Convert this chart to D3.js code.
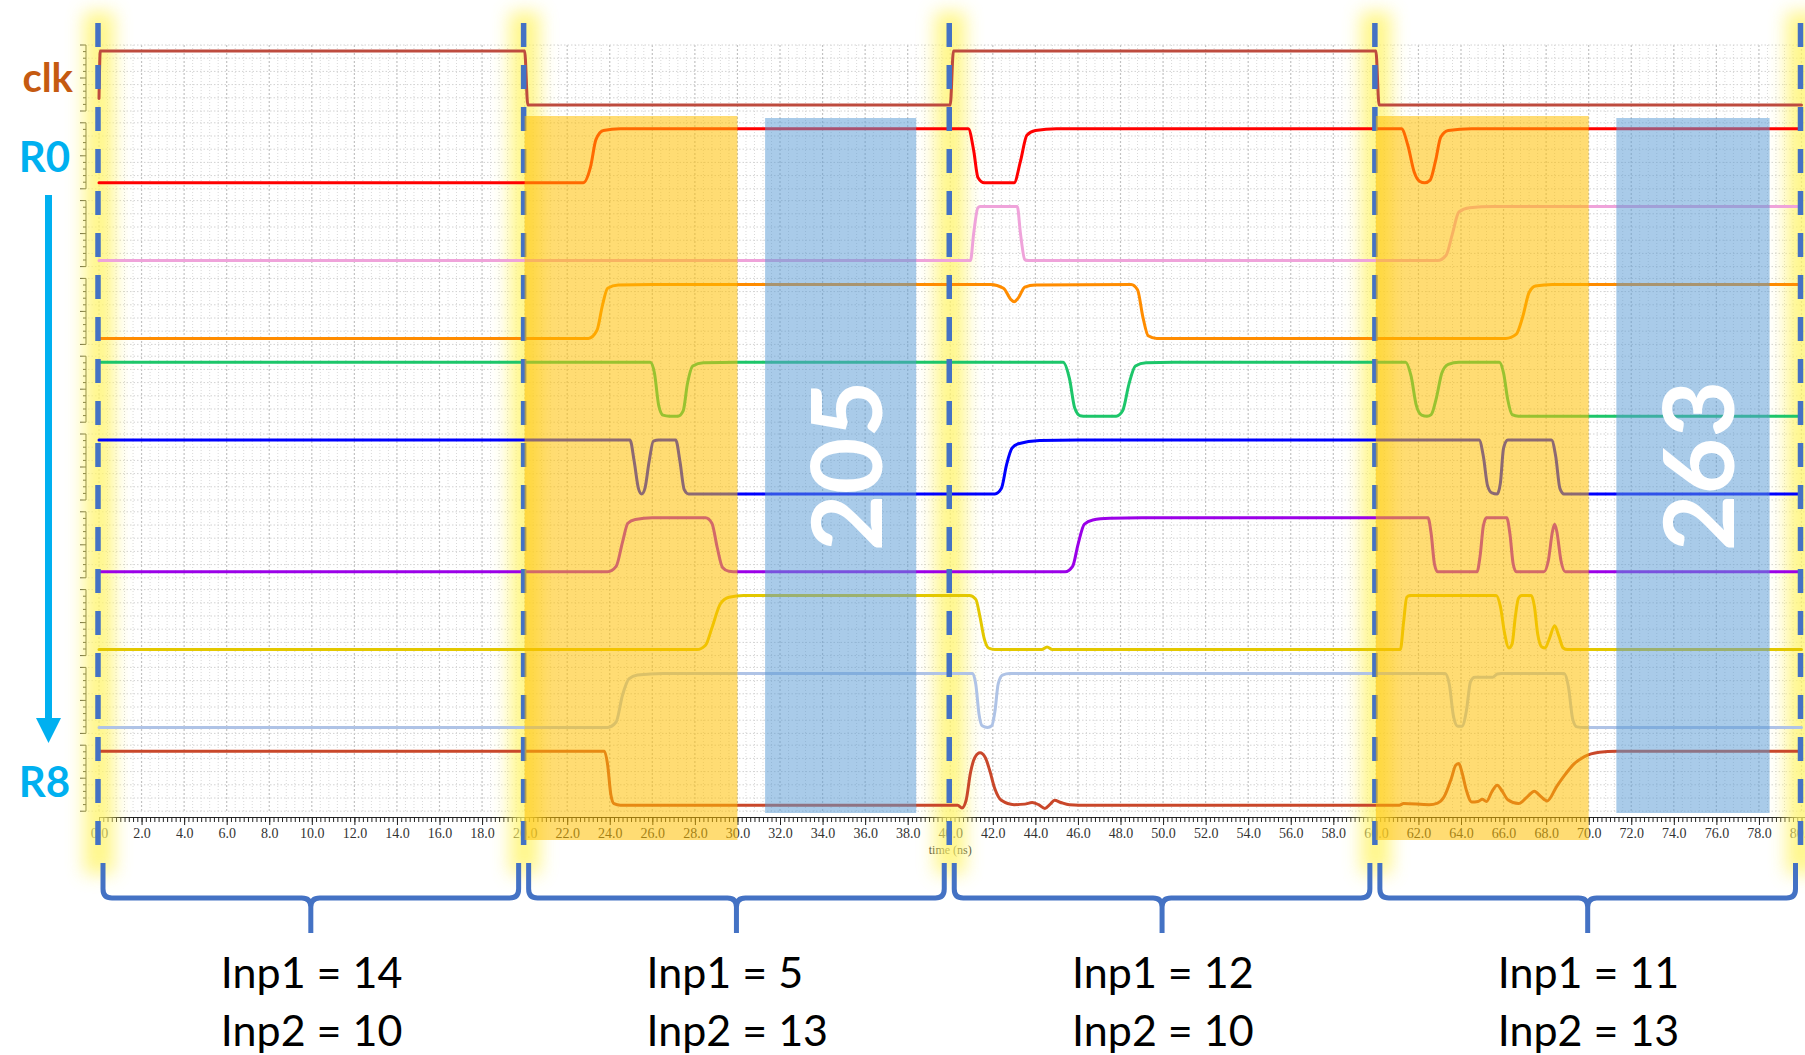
<!DOCTYPE html>
<html>
<head>
<meta charset="utf-8">
<script src="https://cdn.jsdelivr.net/npm/d3@7"></script>
<style>
  html, body { margin: 0; padding: 0; background: #fff; }
  svg { display: block; }
</style>
</head>
<body>
<svg id="chart" width="1805" height="1055"></svg>
<script>
// ---- signal rows, top to bottom ----
const signalNames  = ["clk", "R0", "R1", "R2", "R3", "R4", "R5", "R6", "R7", "R8"];
const signalColors = ["#BE4B3E", "#FF0000", "#EFA3DA", "#FF8C00", "#1DC66A",
                      "#0000FF", "#9B00E8", "#E3C800", "#AFC3E6", "#C9472A"];

// ---- waveforms: [time (ns), logic level 0..1] ----
const clk = [[0,0.12],[0.06,1],[20,1],[20.15,0],[40,0],[40.15,1],[60,1],[60.15,0],[80,0]];

const r0 = [[0,0],[22.75,0],[23.1,0.3],[23.35,0.8],[23.7,0.97],[24.5,1],
  [40.85,1],[41.1,0.6],[41.3,0.1],[41.6,0],[43.0,0],[43.3,0.4],[43.6,0.88],[44.0,0.97],[45,1],
  [61.2,1],[61.5,0.7],[61.8,0.2],[62.05,0.03],[62.3,0],[62.55,0.05],[62.8,0.4],[63.05,0.85],[63.4,0.97],[64.5,1],[80,1]];

const r1 = [[0,0],[40.95,0],[41.1,0.5],[41.3,0.98],[41.4,1],[43.15,1],[43.3,0.5],[43.5,0.02],[43.6,0],
  [62.9,0],[63.3,0.1],[63.6,0.5],[63.9,0.9],[64.4,0.98],[65.5,1],[80,1]];

const r2 = [[0,0],[23.0,0],[23.4,0.15],[23.65,0.6],[23.9,0.93],[24.4,0.99],[26,1],
  [41.9,1],[42.5,0.93],[42.85,0.72],[43.0,0.68],[43.2,0.75],[43.5,0.95],[44,0.99],
  [48.5,1],[48.8,0.9],[49.05,0.4],[49.3,0.05],[49.7,0],
  [66.1,0],[66.6,0.08],[66.9,0.4],[67.2,0.85],[67.5,0.97],[68.3,1],[80,1]];

const r3 = [[0,1],[25.9,1],[26.1,0.8],[26.3,0.2],[26.5,0.02],[26.8,0],[27.2,0],[27.45,0.1],[27.65,0.6],[27.9,0.93],[28.4,0.99],[30,1],
  [45.3,1],[45.6,0.7],[45.85,0.15],[46.1,0.01],[46.4,0],[47.8,0],[48.1,0.1],[48.4,0.6],[48.7,0.93],[49.2,0.99],[50.5,1],
  [61.4,1],[61.65,0.75],[61.9,0.2],[62.15,0.02],[62.4,0],[62.6,0.03],[62.85,0.35],[63.1,0.8],[63.4,0.96],[63.9,1],
  [65.8,1],[66.0,0.8],[66.2,0.3],[66.4,0.03],[66.7,0],[80,0]];

const r4 = [[0,1],[24.95,1],[25.15,0.6],[25.35,0.1],[25.5,0],[25.65,0.1],[25.85,0.6],[26.05,0.98],[26.3,1],
  [27.1,1],[27.3,0.6],[27.5,0.08],[27.7,0],
  [42.1,0],[42.4,0.1],[42.65,0.55],[42.9,0.85],[43.2,0.93],[44.2,0.99],[46,1],
  [64.85,1],[65.05,0.7],[65.25,0.15],[65.45,0.02],[65.7,0],[65.85,0.2],[66.0,0.85],[66.2,1],
  [68.25,1],[68.45,0.7],[68.65,0.1],[68.85,0],[80,0]];

const r5 = [[0,0],[23.9,0],[24.3,0.1],[24.6,0.55],[24.85,0.9],[25.2,0.97],[26,1],
  [28.5,1],[28.8,0.9],[29.05,0.45],[29.3,0.08],[29.6,0.01],[30,0],
  [45.4,0],[45.75,0.1],[46.0,0.5],[46.3,0.88],[46.7,0.96],[47.5,0.99],[49,1],
  [62.45,1],[62.6,0.7],[62.75,0.15],[62.9,0],[64.75,0],[64.9,0.3],[65.05,0.85],[65.2,1],
  [66.15,1],[66.3,0.7],[66.45,0.15],[66.6,0],[67.9,0],[68.1,0.2],[68.3,0.75],[68.4,0.88],[68.5,0.75],[68.7,0.2],[68.9,0],[80,0]];

const r6 = [[0,0],[28.1,0],[28.5,0.08],[28.8,0.4],[29.2,0.85],[29.6,0.97],[30.3,1],
  [40.9,1],[41.2,0.93],[41.4,0.6],[41.6,0.2],[41.8,0.03],[42.1,0],
  [44.3,0],[44.55,0.05],[44.8,0],
  [61.15,0],[61.3,0.5],[61.45,0.97],[61.6,1],
  [65.65,1],[65.85,0.8],[66.05,0.3],[66.25,0.03],[66.4,0.1],[66.55,0.6],[66.7,0.95],[66.85,1],
  [67.3,1],[67.45,0.8],[67.6,0.3],[67.8,0.05],[67.95,0.03],[68.15,0.2],[68.4,0.44],[68.6,0.25],[68.8,0.03],[69.0,0],[80,0]];

const r7 = [[0,0],[23.9,0],[24.3,0.1],[24.6,0.6],[24.9,0.9],[25.3,0.97],[26.5,1],
  [41.05,1],[41.2,0.8],[41.35,0.25],[41.5,0.03],[41.75,0],[41.95,0.03],[42.1,0.3],[42.25,0.8],[42.45,0.97],[42.8,1],
  [63.25,1],[63.45,0.8],[63.65,0.2],[63.85,0.02],[64.05,0.02],[64.25,0.3],[64.45,0.85],[64.65,0.93],[65.5,0.93],[65.7,0.99],[65.9,1],
  [68.85,1],[69.05,0.75],[69.25,0.15],[69.45,0.01],[69.8,0],[80,0]];

const r8 = [[0,1],[23.75,1],[23.9,0.75],[24.05,0.2],[24.2,0.03],[24.5,0],
  [40.35,0],[40.55,-0.05],[40.75,0.1],[40.95,0.6],[41.15,0.88],[41.4,0.97],[41.65,0.88],[41.85,0.65],[42.1,0.3],[42.4,0.09],
  [43.0,0.01],[43.5,0.02],[43.85,0.05],[44.15,0.01],[44.45,-0.06],[44.7,0.02],[44.9,0.09],[45.2,0.05],[45.6,0.01],[46.5,0],
  [61.1,0],[61.3,0.03],[62.5,0.01],[62.9,0.04],[63.2,0.15],[63.55,0.5],[63.75,0.74],[63.9,0.77],[64.05,0.6],[64.25,0.28],[64.5,0.06],
  [64.8,0.07],[65.0,0.11],[65.2,0.07],[65.45,0.25],[65.7,0.37],[65.95,0.25],[66.2,0.1],[66.7,0.03],[67.1,0.15],[67.45,0.26],
  [67.75,0.16],[68.05,0.08],[68.5,0.35],[68.9,0.57],[69.3,0.76],[69.8,0.9],[70.5,0.98],[71.3,1],[80,1]];

const waveforms = [clk, r0, r1, r2, r3, r4, r5, r6, r7, r8];

// ---- timing annotations ----
const clockEdges     = [0, 20, 40, 60, 80];
const evalWindows    = [[20, 30], [60, 70]];
const resultWindows  = [[31.3, 38.4], [71.3, 78.5]];
const resultValues   = [205, 263];
const inp1Values     = [14, 5, 12, 11];
const inp2Values     = [10, 13, 10, 13];
const majorTimeTicks = d3.range(0, 80.001, 2);
const minorTimeTicks = d3.range(0, 80.001, 0.2);

// ---- layout ----
const svg = d3.select("#chart");
const W = 1805, H = 1055;
svg.append("rect").attr("width", W).attr("height", H).attr("fill", "#fff");

const x = d3.scaleLinear().domain([0, 80]).range([99, 1801.5]);
const rowHigh0 = 51, rowPitch = 77.8, swing = 54;
const rowScale = i => {
  const hi = rowHigh0 + i * rowPitch;
  return d3.scaleLinear().domain([0, 1]).range([hi + swing, hi]);
};
const rowTop = i => rowHigh0 + i * rowPitch - 6;
const rowBottom = i => rowHigh0 + i * rowPitch + swing + 6;
const plotTop = rowTop(0), plotBottom = rowBottom(9);

const defs = svg.append("defs");
defs.append("filter").attr("id", "glow")
  .attr("x", "-150%").attr("y", "-10%").attr("width", "400%").attr("height", "120%")
  .append("feGaussianBlur").attr("stdDeviation", 9);

// ---- grid ----
const grid = svg.append("g").attr("class", "grid");
grid.selectAll("line.vminor")
  .data(d3.range(0, 80.001, 0.4).filter(t => Math.abs(t / 2 - Math.round(t / 2)) > 1e-6))
  .join("line").attr("class", "vminor")
  .attr("x1", d => x(d)).attr("x2", d => x(d))
  .attr("y1", plotTop).attr("y2", plotBottom)
  .attr("stroke", "#d9d9d9").attr("stroke-width", 1).attr("stroke-dasharray", "1,2");
grid.selectAll("line.vmajor")
  .data(majorTimeTicks)
  .join("line").attr("class", "vmajor")
  .attr("x1", d => x(d)).attr("x2", d => x(d))
  .attr("y1", plotTop).attr("y2", plotBottom)
  .attr("stroke", "#c2c2c2").attr("stroke-width", 1.2).attr("stroke-dasharray", "2,2");
signalNames.forEach((name, i) => {
  const ys = d3.range(6).map(k => rowTop(i) + k * (rowBottom(i) - rowTop(i)) / 5);
  grid.selectAll(null).data(ys).join("line")
    .attr("x1", 88).attr("x2", W).attr("y1", d => d).attr("y2", d => d)
    .attr("stroke", "#d2d2d2").attr("stroke-width", 1).attr("stroke-dasharray", "1.5,2");
});

// ---- per-row level axes ----
signalNames.forEach((name, i) => {
  const g = svg.append("g").attr("stroke", "#3c3c2c").attr("stroke-width", 1);
  const t0 = rowTop(i), t1 = rowBottom(i);
  g.append("line").attr("x1", 86).attr("x2", 86).attr("y1", t0).attr("y2", t1);
  const n = 10;
  d3.range(n + 1).forEach(k => {
    const y = t0 + k * (t1 - t0) / n;
    const len = (k === 0 || k === n || k === n / 2) ? 6 : 3;
    g.append("line").attr("x1", 86 - len).attr("x2", 86).attr("y1", y).attr("y2", y);
  });
});

// ---- time axis ----
const axisY = 817;
svg.append("g").attr("transform", `translate(0,${axisY})`)
  .call(d3.axisBottom(x).tickValues(minorTimeTicks).tickFormat("").tickSize(5).tickSizeOuter(0))
  .call(g => g.select(".domain").remove())
  .call(g => g.selectAll("line").attr("stroke", "#222"));
const ax = svg.append("g").attr("transform", `translate(0,${axisY})`)
  .call(d3.axisBottom(x).tickValues(majorTimeTicks).tickFormat(d3.format(".1f")).tickSize(8).tickSizeOuter(0));
ax.select(".domain").attr("stroke", "#222");
ax.selectAll("line").attr("stroke", "#222");
ax.selectAll("text").attr("font-family", "'Liberation Serif', serif").attr("font-size", 14).attr("fill", "#333");
svg.append("line").attr("x1", x(80)).attr("x2", W).attr("y1", axisY + 0.5).attr("y2", axisY + 0.5).attr("stroke", "#222");
svg.append("text").attr("x", x(40)).attr("y", 854).attr("text-anchor", "middle")
  .attr("font-family", "'Liberation Serif', serif").attr("font-size", 12).attr("fill", "#333").text("time (ns)");

// ---- glow behind the clock edges ----
svg.append("g").selectAll("rect").data(clockEdges).join("rect")
  .attr("x", d => x(d) - 15).attr("width", 30).attr("y", 12).attr("height", 862)
  .attr("fill", "#FFF46A").attr("opacity", 0.8).attr("filter", "url(#glow)");

// ---- waveforms ----
const lines = svg.append("g").attr("fill", "none").attr("stroke-width", 3)
  .attr("stroke-linejoin", "round").attr("stroke-linecap", "round");
waveforms.forEach((wave, i) => {
  const ys = rowScale(i);
  const line = d3.line().x(d => x(d[0])).y(d => ys(d[1])).curve(d3.curveMonotoneX);
  lines.append("path").attr("d", line(wave)).attr("stroke", signalColors[i]);
});

// ---- clock edge markers ----
svg.append("g").selectAll("line").data(clockEdges).join("line")
  .attr("x1", d => x(d) - 1).attr("x2", d => x(d) - 1).attr("y1", 23).attr("y2", 845)
  .attr("stroke", "#4472C4").attr("stroke-width", 5.5).attr("stroke-dasharray", "24,18");

// ---- evaluation and result windows ----
svg.append("g").selectAll("rect").data(evalWindows).join("rect")
  .attr("x", d => x(d[0])).attr("width", d => x(d[1]) - x(d[0]))
  .attr("y", 116).attr("height", 840 - 116)
  .attr("fill", "#FFC000").attr("opacity", 0.55);
svg.append("g").selectAll("rect").data(resultWindows).join("rect")
  .attr("x", d => x(d[0])).attr("width", d => x(d[1]) - x(d[0]))
  .attr("y", 118).attr("height", 813 - 118)
  .attr("fill", "#5B9BD5").attr("opacity", 0.52);
svg.append("g").selectAll("text").data(resultValues).join("text")
  .attr("transform", (d, k) => `translate(${(x(resultWindows[k][0]) + x(resultWindows[k][1])) / 2 + 3},466) rotate(-90)`)
  .attr("text-anchor", "middle").attr("dominant-baseline", "central")
  .attr("font-family", "Lato, sans-serif").attr("font-weight", 700).attr("font-size", 98)
  .attr("fill", "#fff").text(d => d);

// ---- row labels and register-order arrow ----
svg.append("text").attr("x", 73).attr("y", 92).attr("text-anchor", "end")
  .attr("font-family", "Lato, sans-serif").attr("font-weight", 700).attr("font-size", 40)
  .attr("fill", "#C55A11").text(signalNames[0]);
svg.append("text").attr("x", 70).attr("y", 172).attr("text-anchor", "end")
  .attr("font-family", "Lato, sans-serif").attr("font-weight", 700).attr("font-size", 42)
  .attr("fill", "#00B0F0").text(signalNames[1]);
svg.append("text").attr("x", 70).attr("y", 797).attr("text-anchor", "end")
  .attr("font-family", "Lato, sans-serif").attr("font-weight", 700).attr("font-size", 42)
  .attr("fill", "#00B0F0").text(signalNames[9]);
svg.append("line").attr("x1", 48.5).attr("x2", 48.5).attr("y1", 195).attr("y2", 722)
  .attr("stroke", "#00B0F0").attr("stroke-width", 7);
svg.append("path").attr("d", "M36,718 L61,718 L48.5,743 Z").attr("fill", "#00B0F0");

// ---- input braces; the two input lines share a left edge ----
const y0 = 863, y1 = 898, y2 = 933, r = 9;
const braces = svg.append("g");
d3.range(4).forEach(k => {
  const a = x(clockEdges[k]) + 4, b = x(clockEdges[k + 1]) - 6, c = (a + b) / 2;
  const p = `M${a},${y0} L${a},${y1 - r} Q${a},${y1} ${a + r},${y1} L${c - r},${y1} Q${c},${y1} ${c},${y1 + r} L${c},${y2}` +
            ` M${c},${y2} L${c},${y1 + r} Q${c},${y1} ${c + r},${y1} L${b - r},${y1} Q${b},${y1} ${b},${y1 - r} L${b},${y0}`;
  braces.append("path").attr("d", p).attr("fill", "none").attr("stroke", "#4472C4")
    .attr("stroke-width", 5).attr("stroke-linejoin", "round");
  const tx = c - 90;
  braces.append("text").attr("x", tx).attr("y", 988).attr("text-anchor", "start")
    .attr("font-family", "Lato, sans-serif").attr("font-size", 43).attr("fill", "#000")
    .text(`Inp1 = ${inp1Values[k]}`);
  braces.append("text").attr("x", tx).attr("y", 1046).attr("text-anchor", "start")
    .attr("font-family", "Lato, sans-serif").attr("font-size", 43).attr("fill", "#000")
    .text(`Inp2 = ${inp2Values[k]}`);
});
</script>
</body>
</html>
